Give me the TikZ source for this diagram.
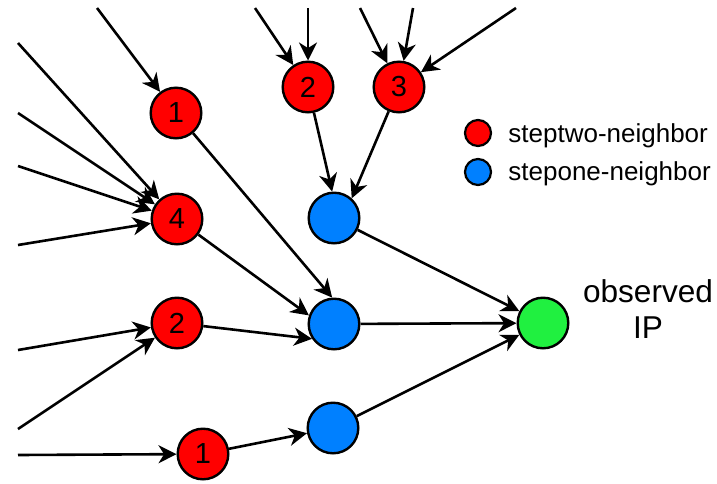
\documentclass[tikz,border=0pt]{standalone}
\usepackage{fontspec}
\setmainfont{Liberation Sans}
\usetikzlibrary{arrows.meta}
\definecolor{nred}{RGB}{255,0,0}
\definecolor{nblue}{RGB}{0,128,255}
\definecolor{ngreen}{RGB}{32,240,64}
\begin{document}
\begin{tikzpicture}[x=0.5pt,y=-0.5pt,
  vertex/.style={circle,draw=black,line width=1.2pt,minimum size=25.3pt,inner sep=0pt,font=\fontsize{14.5}{17}\selectfont},
  two/.style={vertex,fill=nred},
  one/.style={vertex,fill=nblue},
  obs/.style={vertex,fill=ngreen},
  link/.style={line width=1.3pt,-{Stealth[length=9pt,width=9pt,inset=2.8pt]}},
  key/.style={circle,draw=black,line width=1.1pt,minimum size=13pt,inner sep=0pt},
  keytext/.style={anchor=base west,inner sep=0pt,font=\fontsize{13}{15}\selectfont}]
\useasboundingbox (0,0) rectangle (717,483);

% nodes
\node[two] (r1a) at (176,113) {1};
\node[two] (r4)  at (177,219) {4};
\node[two] (r2a) at (177,323) {2};
\node[two] (r1b) at (203,454) {1};
\node[two] (r2b) at (308,87) {2};
\node[two] (r3)  at (399,87) {3};
\node[one] (bA) at (334,218) {};
\node[one] (bB) at (334,324) {};
\node[one] (bC) at (333,428) {};
\node[obs] (g) at (543,323) {};

% free ends
\coordinate (s1) at (97,8);
\coordinate (s2) at (18,43);
\coordinate (s3) at (18,113);
\coordinate (s4) at (18,166);
\coordinate (s5) at (18,245);
\coordinate (s6) at (18,350);
\coordinate (s7) at (18,429);
\coordinate (s8) at (18,455);
\coordinate (t1) at (255,8);
\coordinate (t2) at (308,8);
\coordinate (t3) at (360,8);
\coordinate (t4) at (413,8);
\coordinate (t5) at (516,8);

% incoming edges
\draw[link] (s1) -- (r1a);
\draw[link] (s2) -- (r4);
\draw[link] (s3) -- (r4);
\draw[link] (s4) -- (r4);
\draw[link] (s5) -- (r4);
\draw[link] (s6) -- (r2a);
\draw[link] (s7) -- (r2a);
\draw[link] (s8) -- (r1b);
\draw[link] (t1) -- (r2b);
\draw[link] (t2) -- (r2b);
\draw[link] (t3) -- (r3);
\draw[link] (t4) -- (r3);
\draw[link] (t5) -- (r3);

% inner edges
\draw[link] (r1a) -- (bB.94);
\draw[link] (r4) -- (bB.161);
\draw[link] (r2a) -- (bB.214);
\draw[link] (r1b) -- (bC);
\draw[link] (r2b) -- (bA.94);
\draw[link] (r3) -- (bA.48);
\draw[link] (bA) -- (g);
\draw[link] (bB) -- (g);
\draw[link] (bC) -- (g);

% label
\node[inner sep=0pt,align=center,font=\fontsize{15.8}{18}\selectfont] (lbl) at (648,309) {observed\\IP};

% legend
\node[key,fill=nred] (k1) at (478,133) {};
\node[key,fill=nblue] (k2) at (478,172) {};
\node[keytext] (k1t) at (508,142) {steptwo-neighbor};
\node[keytext] (k2t) at (508,180) {stepone-neighbor};
\end{tikzpicture}
\end{document}
